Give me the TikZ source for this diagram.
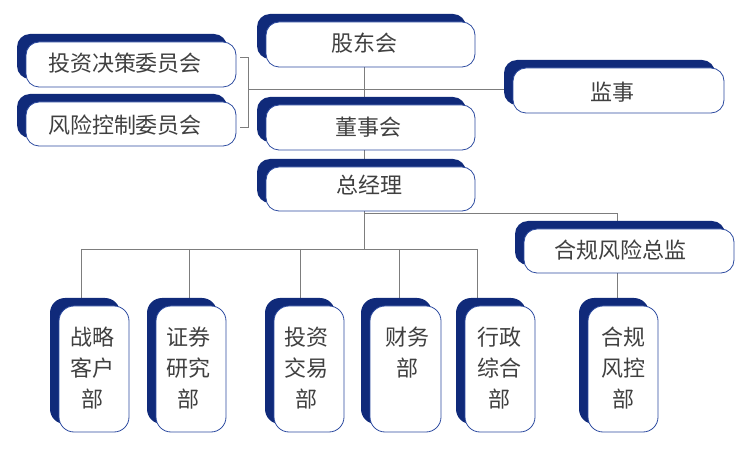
\documentclass[tikz,border=0pt]{standalone}
\usepackage{fontspec}
\setmainfont{Noto Sans CJK SC}
\usetikzlibrary{shadows}
\definecolor{navy}{RGB}{16,42,122}
\definecolor{edgeblue}{RGB}{45,75,160}
\definecolor{txt}{RGB}{64,64,64}
\definecolor{ln}{RGB}{125,125,125}
\pgfdeclarelayer{bg}
\pgfsetlayers{bg,main}
\begin{document}
\begin{tikzpicture}[x=1pt,y=-1pt,
  box/.style={draw=edgeblue, line width=0.8pt, fill=white, rounded corners=13pt, inner sep=0pt,
    general shadow={fill=navy, draw=none, shadow xshift=-9pt, shadow yshift=8pt}},
  hbox/.style={box, minimum width=209pt, minimum height=45pt},
  vbox/.style={box, minimum width=70pt, minimum height=126pt, rounded corners=15pt},
  lbl/.style={text=txt, font=\fontsize{22pt}{31pt}\selectfont, inner sep=0pt, align=center},
  conn/.style={draw=ln, line width=0.9pt}]
\useasboundingbox (0,0) rectangle (750,454);

% boxes
\node[hbox] (gdh) at (370.5,44.5) {};
\node[hbox, minimum width=210pt] (tzjc) at (131,64.5) {};
\node[hbox, minimum width=210pt, minimum height=44pt] (fxkz) at (131,124) {};
\node[hbox] (dsh) at (370.5,127.5) {};
\node[hbox, minimum height=44pt] (zjl) at (370.5,189) {};
\node[hbox, minimum width=211pt] (js) at (618.5,90.5) {};
\node[hbox, minimum width=210pt, minimum height=44pt] (hgfxzj) at (629,251) {};
\node[vbox] (zlkh) at (94,369) {};
\node[vbox] (zqyj) at (191,369) {};
\node[vbox] (tzjy) at (309,369) {};
\node[vbox, minimum width=71pt] (cwb) at (405.5,369) {};
\node[vbox] (xzzh) at (500,369) {};
\node[vbox] (hgfk) at (623,369) {};

% texts
\node[lbl] (gdh-t) at (364,43) {股东会};
\node[lbl] (tzjc-t) at (125,63) {投资决策委员会};
\node[lbl] (fxkz-t) at (125,125) {风险控制委员会};
\node[lbl] (dsh-t) at (368,127) {董事会};
\node[lbl] (zjl-t) at (369,185) {总经理};
\node[lbl] (js-t) at (612,92) {监事};
\node[lbl] (hgfxzj-t) at (620,250) {合规风险总监};
\node[lbl] (zlkh-t) at (92.5,368.5) {战略\\客户\\部};
\node[lbl] (zqyj-t) at (188,368.5) {证券\\研究\\部};
\node[lbl] (tzjy-t) at (306.5,368.5) {投资\\交易\\部};
\node[lbl] (cwb-t) at (407,352.5) {财务\\部};
\node[lbl] (xzzh-t) at (499.5,368.5) {行政\\综合\\部};
\node[lbl] (hgfk-t) at (623,368.5) {合规\\风控\\部};

% connector anchors
\coordinate (trunk) at (364,249);
\coordinate (brk) at (248,89);
\coordinate (bt) at (240,57);
\coordinate (bb) at (240,127);
\coordinate (cr) at (364,213);
\coordinate (c7) at (617,213);
\coordinate (d1) at (81,249);
\coordinate (d2) at (189,249);
\coordinate (d3) at (300,249);
\coordinate (d4) at (399,249);
\coordinate (d5) at (477,249);

\begin{pgfonlayer}{bg}
\draw[conn] (gdh.south -| trunk) -- (trunk);
\draw[conn] (bt) -- (bt -| brk) -- (bb -| brk) -- (bb);
\draw[conn] (brk) -- (brk -| js.west);
\draw[conn] (cr) -- (c7) -- (c7 |- hgfxzj.north);
\draw[conn] (c7 |- hgfxzj.south) -- (c7 |- hgfk.north);
\draw[conn] (d1) -- (d5);
\draw[conn] (d1) -- (d1 |- zlkh.north);
\draw[conn] (d2) -- (d2 |- zqyj.north);
\draw[conn] (d3) -- (d3 |- tzjy.north);
\draw[conn] (d4) -- (d4 |- cwb.north);
\draw[conn] (d5) -- (d5 |- xzzh.north);
\end{pgfonlayer}
\end{tikzpicture}
\end{document}
